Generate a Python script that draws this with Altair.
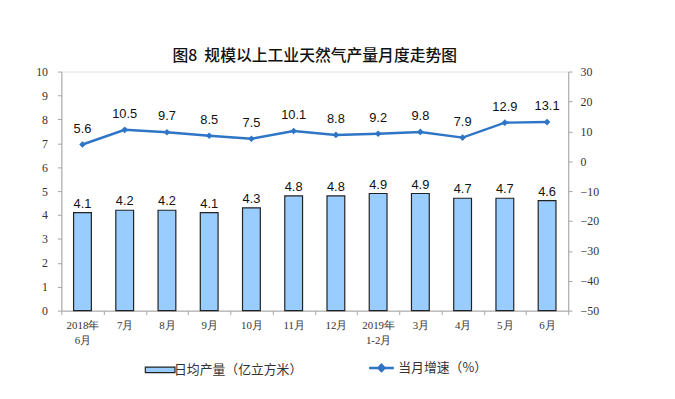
import altair as alt
import pandas as pd

months = ["2018年|6月", "7月", "8月", "9月", "10月", "11月", "12月",
          "2019年|1-2月", "3月", "4月", "5月", "6月"]
daily_output = [4.1, 4.2, 4.2, 4.1, 4.3, 4.8, 4.8, 4.9, 4.9, 4.7, 4.7, 4.6]
growth = [5.6, 10.5, 9.7, 8.5, 7.5, 10.1, 8.8, 9.2, 9.8, 7.9, 12.9, 13.1]

bar_name = "日均产量（亿立方米）"
line_name = "当月增速（%）"

df = pd.DataFrame({"month": months, "output": daily_output, "growth": growth,
                   "bar_series": [bar_name] * len(months),
                   "line_series": [line_name] * len(months)})

BLUE = "#2E75C6"
FILL = "#99CCFF"
AXIS_GRAY = "#A6A6A6"
SERIF = "Liberation Serif"
SANS = "Liberation Sans"
CJK = "Noto Sans CJK SC"

x = alt.X("month:N", sort=months, title=None,
          scale=alt.Scale(paddingInner=0, paddingOuter=0),
          axis=alt.Axis(labelExpr="split(datum.label, '|')", labelAngle=0,
                        labelFont=SERIF, labelFontSize=11, labelColor="#333333",
                        labelLineHeight=15, labelPadding=5,
                        tickBand="extent", tickSize=4, tickColor=AXIS_GRAY,
                        domainColor=AXIS_GRAY, grid=False))

base = alt.Chart(df)

yl = alt.Y("output:Q", title=None,
           scale=alt.Scale(domain=[0, 10], nice=False),
           axis=alt.Axis(values=list(range(0, 11)), labelFont=SERIF, labelFontSize=12,
                         labelColor="#333333", tickColor=AXIS_GRAY, tickSize=4,
                         domainColor=AXIS_GRAY, grid=False, labelPadding=10,
                         labelOverlap=False))

bars = base.mark_bar(size=18, stroke="#222222", strokeWidth=1.2).encode(
    x=x,
    y=yl,
    fill=alt.Fill("bar_series:N", scale=alt.Scale(domain=[bar_name], range=[FILL]),
                  legend=alt.Legend(title=None, orient="none", legendX=90, legendY=292,
                                    symbolType="M-1.6,-0.3H1.6V0.3H-1.6Z",
                                    symbolSize=352, symbolStrokeColor="#222222",
                                    symbolStrokeWidth=1.2, labelOffset=4,
                                    labelFont=CJK, labelFontSize=13, labelColor="#333333")),
)

bar_text = base.mark_text(dy=-9, font=SANS, fontSize=13, color="#111111").encode(
    x=alt.X("month:N", sort=months),
    y=yl,
    text=alt.Text("output:Q", format=".1f"),
)

left = alt.layer(bars, bar_text)

yr = alt.Y("growth:Q", title=None,
           scale=alt.Scale(domain=[-50, 30], nice=False),
           axis=alt.Axis(orient="right", values=list(range(-50, 31, 10)),
                         labelFont=SERIF, labelFontSize=12, labelColor="#333333",
                         tickColor=AXIS_GRAY, tickSize=4, domainColor=AXIS_GRAY,
                         grid=False, labelPadding=8, labelOverlap=False))

line = base.mark_line(strokeWidth=2.5).encode(
    x=alt.X("month:N", sort=months),
    y=yr,
    stroke=alt.Stroke("line_series:N", scale=alt.Scale(domain=[line_name], range=[BLUE]),
                      legend=alt.Legend(title=None, orient="none", legendX=310, legendY=286,
                                        symbolType="M-1,0H1M0,-0.25L0.25,0L0,0.25L-0.25,0Z",
                                        symbolSize=625, symbolStrokeWidth=2.5,
                                        symbolFillColor=BLUE, labelOffset=3,
                                        labelFont=CJK, labelFontSize=13, labelColor="#333333")),
)

points = base.mark_point(shape="diamond", filled=True, size=45, color=BLUE, opacity=1).encode(
    x=alt.X("month:N", sort=months),
    y=yr,
)

line_text = base.mark_text(dy=-16, font=SANS, fontSize=13, color="#111111").encode(
    x=alt.X("month:N", sort=months),
    y=yr,
    text=alt.Text("growth:Q", format=".1f"),
)

right = alt.layer(line, points, line_text)

chart = alt.layer(left, right).resolve_scale(y="independent").properties(
    width=513, height=242,
    autosize=alt.AutoSizeParams(type="none"),
    padding={"left": 54, "top": 62, "right": 100, "bottom": 79},
    title=alt.TitleParams("图8\u00a0\u00a0规模以上工业天然气产量月度走势图", font=CJK, fontSize=16,
                          fontWeight=500, color="#111111", offset=2, anchor="middle"),
).configure_view(stroke=None).configure(background="white")

chart.save("out.html", embed_options={"renderer": "svg", "actions": False})
